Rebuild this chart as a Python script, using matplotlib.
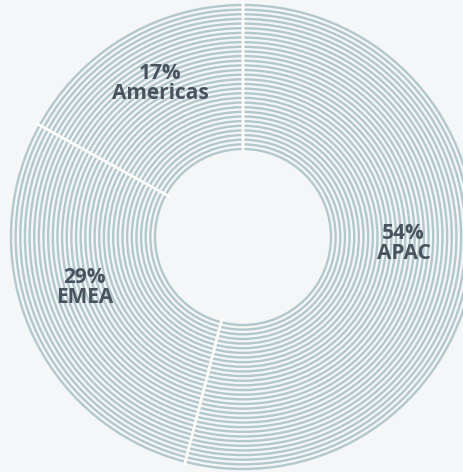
import numpy as np
import matplotlib.pyplot as plt
from matplotlib.patches import Circle

regions = ["APAC", "EMEA", "Americas"]
shares = [54, 29, 17]

bg = "#f4f6f8"
ring_color = "#b2c8cc"
sep_color = "#fbfbf7"
text_color = "#48535f"

W, H = 464, 472
cx, cy = 243, H - 237
r_in, r_out = 88, 232
n_rings = 32

fig = plt.figure(figsize=(W / 100, H / 100), dpi=100, facecolor=bg)
ax = fig.add_axes([0, 0, 1, 1])
ax.set_facecolor(bg)

# concentric rings that make up the donut body
for r in np.linspace(r_in, r_out, n_rings):
    ax.add_patch(Circle((cx, cy), r, fill=False, lw=1.7, ec=ring_color))

# slice boundaries drawn as pale wedge edges on top
wedges, _ = ax.pie(shares, center=(cx, cy), radius=r_out + 6, startangle=90,
                   counterclock=False,
                   wedgeprops=dict(width=r_out + 6 - r_in + 8, facecolor="none",
                                   edgecolor=sep_color, linewidth=1.8))

# the pie's outer and inner arcs would cover rings: hide with background rims
ax.add_patch(Circle((cx, cy), r_out + 6, fill=False, lw=3, ec=bg))
ax.add_patch(Circle((cx, cy), r_in - 8, fill=False, lw=3, ec=bg))

for w, name, s in zip(wedges, regions, shares):
    mid = np.deg2rad((w.theta1 + w.theta2) / 2)
    lx = cx + 162 * np.cos(mid)
    ly = cy + 162 * np.sin(mid) + 14
    if np.cos(mid) < -0.7:
        lx -= 10
    ax.text(lx, ly, f"{s}%\n{name}", ha="center", va="center",
            fontsize=15, fontweight="bold", family="Open Sans",
            color=text_color, linespacing=0.95)

ax.set_xlim(0, W)
ax.set_ylim(0, H)
ax.set_aspect("equal")
ax.axis("off")

fig.savefig("out.png", dpi=100, facecolor=bg)
